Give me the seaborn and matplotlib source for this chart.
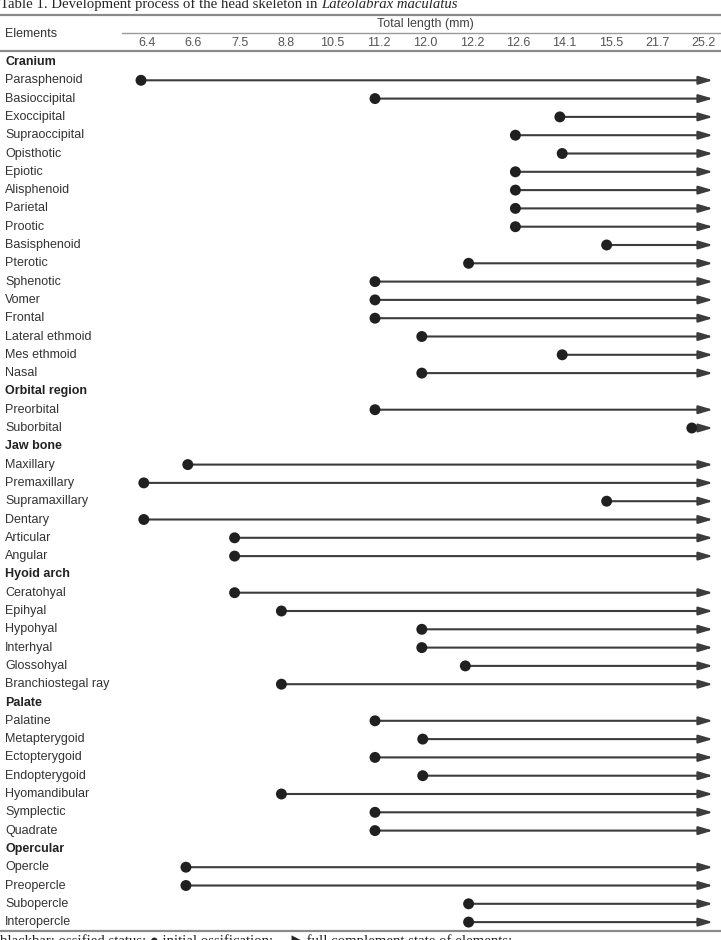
import matplotlib
matplotlib.use("Agg")
import matplotlib.pyplot as plt
import seaborn as sns
import pandas as pd

# total length columns (mm)
lengths = ["6.4", "6.6", "7.5", "8.8", "10.5", "11.2", "12.0", "12.2",
           "12.6", "14.1", "15.5", "21.7", "25.2"]

# rows of the table, grouped
groups = ["Cranium", "Orbital region", "Jaw bone", "Hyoid arch", "Palate", "Opercular"]
elements = [
    ["Parasphenoid", "Basioccipital", "Exoccipital", "Supraoccipital", "Opisthotic",
     "Epiotic", "Alisphenoid", "Parietal", "Prootic", "Basisphenoid", "Pterotic",
     "Sphenotic", "Vomer", "Frontal", "Lateral ethmoid", "Mes ethmoid", "Nasal"],
    ["Preorbital", "Suborbital"],
    ["Maxillary", "Premaxillary", "Supramaxillary", "Dentary", "Articular", "Angular"],
    ["Ceratohyal", "Epihyal", "Hypohyal", "Interhyal", "Glossohyal", "Branchiostegal ray"],
    ["Palatine", "Metapterygoid", "Ectopterygoid", "Endopterygoid", "Hyomandibular",
     "Symplectic", "Quadrate"],
    ["Opercle", "Preopercle", "Subopercle", "Interopercle"],
]
# initial ossification, as position on the length columns (column index)
onset = [
    [0, 5, 8.95, 8, 9, 8, 8, 8, 8, 9.95, 7, 5, 5, 5, 6, 9, 6],
    [5, 11.77],
    [1, 0.06, 9.95, 0.06, 2, 2],
    [2, 3, 6, 6, 6.93, 3],
    [5, 6.02, 5, 6.02, 3, 5, 5],
    [0.96, 0.96, 7, 7],
]
full_state = 12.22  # arrow tip: full complement state


def px_x(p):
    return (p - 141) / 46.8


def px_y(p):
    return (p - 62) / 18.3


rows = []
r = 0
for g, names, starts in zip(groups, elements, onset):
    rows.append(dict(label=g, row=r, start=None, head=True))
    r += 1
    for n, s in zip(names, starts):
        rows.append(dict(label=n, row=r, start=s, head=False))
        r += 1
df = pd.DataFrame(rows)
marks = df[~df["head"]]

sns.set_style("white")
plt.rcParams["font.family"] = ["Liberation Sans", "DejaVu Sans"]

fig = plt.figure(figsize=(7.21, 9.40), dpi=100)
ax = fig.add_axes([0, 0, 1, 1])

txt = "#333333"
for _, d in df.iterrows():
    ax.text(px_x(5), d["row"], d["label"], ha="left", va="center", fontsize=9,
            color="#222222" if d["head"] else txt,
            fontweight="bold" if d["head"] else "normal")

for _, d in marks.iterrows():
    ax.annotate("", xy=(full_state, d["row"]), xytext=(d["start"], d["row"]),
                arrowprops=dict(arrowstyle="-|>,head_length=0.85,head_width=0.25",
                                color="#3c3c3c", lw=1.5, shrinkA=0, shrinkB=0,
                                mutation_scale=10))

sns.scatterplot(data=marks, x="start", y="row", color="#202020", s=62,
                edgecolor="none", legend=False, ax=ax, zorder=4)
ax.set_xlim(px_x(0), px_x(721))
ax.set_ylim(px_y(940), px_y(0))
ax.axis("off")

# header
for i, lab in enumerate(lengths):
    ax.text(i * 0.9915 + 0.128, px_y(43), lab, ha="center", va="center",
            fontsize=9, color="#555555")
ax.text(px_x(5), px_y(34), "Elements", ha="left", va="center", fontsize=9, color=txt)
ax.text(px_x(425), px_y(24), "Total length (mm)", ha="center", va="center",
        fontsize=9, color="#444444")

ax.plot([px_x(0), px_x(721)], [px_y(15)] * 2, color="#8a8a8a", lw=1.6)
ax.plot([px_x(122), px_x(721)], [px_y(33)] * 2, color="#9a9a9a", lw=1.0)
ax.plot([px_x(0), px_x(721)], [px_y(51)] * 2, color="#8a8a8a", lw=1.6)
ax.plot([px_x(0), px_x(721)], [px_y(931)] * 2, color="#8a8a8a", lw=1.6)

t1 = fig.text(0.0, 1 - 8 / 940, "Table 1. Development process of the head skeleton in",
              ha="left", va="baseline", fontsize=10.6, family="Liberation Serif")
fig.canvas.draw()
bb = t1.get_window_extent(renderer=fig.canvas.get_renderer())
fig.text(bb.x1 / fig.bbox.width + 4 / 721, 1 - 8 / 940, "Lateolabrax maculatus",
         ha="left", va="baseline", fontsize=10.6, family="Liberation Serif",
         style="italic")
fig.text(0.0, 1 - 945 / 940,
         "blackbar: ossified status; \u25cf initial ossification; \u2014\u25b6 full complement state of elements:",
         ha="left", va="baseline", fontsize=10.6, family=["Liberation Serif", "DejaVu Sans"])

fig.savefig("out.png", dpi=100)
